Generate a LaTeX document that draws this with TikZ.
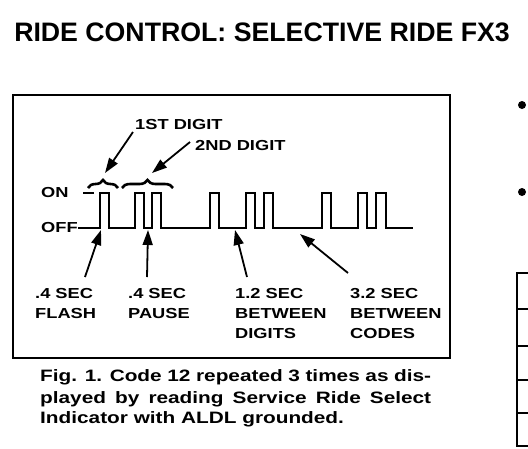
\documentclass[tikz,border=0pt]{standalone}
\usepackage{fontspec}
\setmainfont{Liberation Sans}
\newfontfamily\widesans[FakeStretch=1.26]{Liberation Sans}
\usetikzlibrary{arrows.meta,decorations.pathreplacing}
\begin{document}
\begin{tikzpicture}[x=1pt,y=-1pt,
  lbl/.style={font=\widesans\bfseries\fontsize{14.5}{20.3}\selectfont, inner sep=0pt, align=left, anchor=north west},
  side/.style={font=\widesans\bfseries\fontsize{14.5}{20}\selectfont, inner sep=0pt, anchor=west},
  captext/.style={font=\widesans\bfseries\fontsize{16.5}{20}\selectfont, inner sep=0pt, anchor=west},
  wave/.style={line width=1.7pt, line join=miter},
  ptr/.style={line width=1.8pt, -{Triangle[length=15pt,width=10pt]}},
  brc/.style={line width=2.6pt, decorate, decoration={brace, amplitude=8pt}},
  rule/.style={line width=1.6pt},
  dot/.style={circle, fill=black, inner sep=0pt, minimum size=8pt},
]
\useasboundingbox (0,0) rectangle (528,448);
% title
\node[font=\bfseries\fontsize{26.7}{30}\selectfont, inner sep=0pt] (title) at (262,32) {RIDE CONTROL: SELECTIVE RIDE FX3};
% frame
\draw[rule] (13,95) rectangle (450,358);
% ON / OFF
\node[side] (on) at (41,193) {ON};
\node[side] (off) at (41,228) {OFF};
\draw[wave] (83,193) -- (94,193);
% waveform
\draw[wave] (off.east) -- (100,228)
  -- (100,193) -- (109,193) -- (109,228) -- (135,228)
  -- (135,193) -- (144,193) -- (144,228) -- (152,228)
  -- (152,193) -- (161,193) -- (161,228) -- (210,228)
  -- (210,193) -- (219,193) -- (219,228) -- (246,228)
  -- (246,193) -- (255,193) -- (255,228) -- (264,228)
  -- (264,193) -- (273,193) -- (273,228) -- (322,228)
  -- (322,193) -- (331,193) -- (331,228) -- (358,228)
  -- (358,193) -- (367,193) -- (367,228) -- (376,228)
  -- (376,193) -- (386,193) -- (386,228) -- (413,228);
% braces
\draw[brc] (88,188) -- (118,188) coordinate[midway] (b1);
\draw[brc] (122,188) -- (173,188) coordinate[midway] (b2);
\coordinate (b1tip) at (105,173);
\coordinate (b2tip) at (152,173);
% top labels
\node[lbl, anchor=west] (d1) at (135,125) {1ST DIGIT};
\node[lbl, anchor=west] (d2) at (195,146) {2ND DIGIT};
\coordinate (d1t) at (133,132);
\coordinate (d2t) at (190,142);
\draw[ptr] (d1t) -- (b1tip);
\draw[ptr] (d2t) -- (b2tip);
% bottom labels
\node[lbl] (l1) at (35,288) {.4 SEC\\FLASH};
\node[lbl] (l2) at (128,288) {.4 SEC\\PAUSE};
\node[lbl] (l3) at (235,288) {1.2 SEC\\BETWEEN\\DIGITS};
\node[lbl] (l4) at (350,288) {3.2 SEC\\BETWEEN\\CODES};
\coordinate (a1s) at (85,277);  \coordinate (a1e) at (101,230);
\coordinate (a2s) at (147,277); \coordinate (a2e) at (148,230);
\coordinate (a3s) at (247,277); \coordinate (a3e) at (235,230);
\coordinate (a4s) at (348,273); \coordinate (a4e) at (300,234);
\draw[ptr] (a1s) -- (a1e);
\draw[ptr] (a2s) -- (a2e);
\draw[ptr] (a3s) -- (a3e);
\draw[ptr] (a4s) -- (a4e);
% caption
\node[captext] (c1) at (40,377) {\makebox[391pt][s]{Fig. 1. Code 12 repeated 3 times as dis-}};
\node[captext] (c2) at (40,399) {\makebox[391pt][s]{played by reading Service Ride Select}};
\node[captext] (c3) at (40,419) {Indicator with ALDL grounded.};
% right column
\node[dot] (p1) at (522,105) {};
\node[dot] (p2) at (522,192) {};
\draw[rule] (528,273) -- (517,273) -- (517,446) -- (528,446);
\foreach \yy in {309,346,380,413} \draw[rule] (517,\yy) -- (528,\yy);
\end{tikzpicture}
\end{document}
